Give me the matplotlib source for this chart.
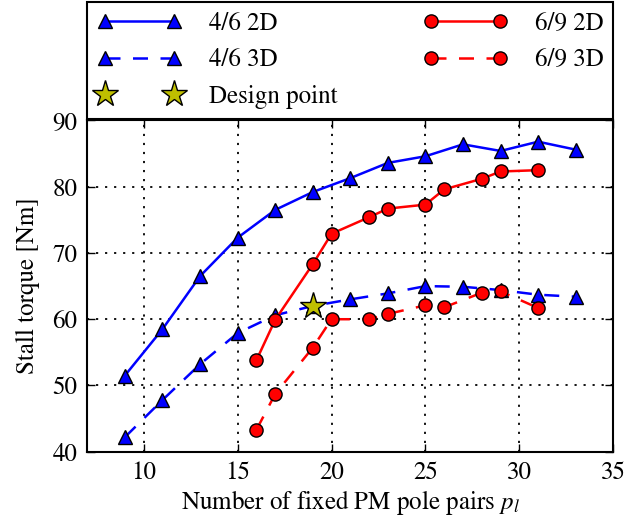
import matplotlib
matplotlib.use("Agg")
import matplotlib.pyplot as plt

plt.rcParams["font.family"] = ["STIXGeneral", "DejaVu Serif"]
plt.rcParams["mathtext.fontset"] = "stix"

# Stall torque [Nm] versus number of fixed PM pole pairs
p_46 = [9, 11, 13, 15, 17, 19, 21, 23, 25, 27, 29, 31, 33]
t_46_2d = [51.5, 58.5, 66.5, 72.3, 76.5, 79.2, 81.3, 83.6, 84.6, 86.4, 85.4, 86.8, 85.6]
t_46_3d = [42.2, 47.8, 53.2, 57.9, 60.6, 62.0, 63.0, 63.9, 65.0, 64.9, 64.4, 63.7, 63.4]

p_69 = [16, 17, 19, 20, 22, 23, 25, 26, 28, 29, 31]
t_69_2d = [53.8, 59.9, 68.3, 72.9, 75.4, 76.7, 77.3, 79.6, 81.2, 82.3, 82.5]
t_69_3d = [43.3, 48.7, 55.7, 60.0, 60.0, 60.8, 62.1, 61.8, 64.0, 64.2, 61.7]

design_p = [19]
design_t = [62.0]

FS = 18

fig = plt.figure(figsize=(6.44, 5.2), dpi=100)
ax = fig.add_axes([0.1356, 0.1313, 0.8167, 0.637])

lw = 1.8
tri = dict(marker="^", markersize=10, markerfacecolor="#0000ff",
           markeredgecolor="black", markeredgewidth=1.0)
circ = dict(marker="o", markersize=9.5, markerfacecolor="#ff0000",
            markeredgecolor="black", markeredgewidth=1.0)

h1, = ax.plot(p_46, t_46_2d, "-", color="#0000ff", lw=lw, label="4/6 2D", **tri)
h2, = ax.plot(p_46, t_46_3d, "--", color="#0000ff", lw=lw, dashes=(6, 5),
              label="4/6 3D", **tri)
h3, = ax.plot(design_p, design_t, linestyle="none", marker="*", markersize=20,
              markerfacecolor="#bfbf00", markeredgecolor="black",
              markeredgewidth=1.0, label="Design point", zorder=5)
h4, = ax.plot(p_69, t_69_2d, "-", color="#ff0000", lw=lw, label="6/9 2D", **circ)
h5, = ax.plot(p_69, t_69_3d, "--", color="#ff0000", lw=lw, dashes=(6, 5),
              label="6/9 3D", **circ)

ax.set_xlim(7, 35)
ax.set_ylim(40, 90)
ax.set_xticks([10, 15, 20, 25, 30, 35])
ax.set_yticks([40, 50, 60, 70, 80, 90])
ax.grid(True, color="black", linestyle=(0, (1.2, 3.8)), linewidth=1.3)
ax.tick_params(direction="in", top=True, right=True, length=6, width=1.0,
               labelsize=FS, pad=7)
for s in ax.spines.values():
    s.set_linewidth(1.5)

ax.set_xlabel("Number of fixed PM pole pairs $p_l$", fontsize=FS, labelpad=2)
ax.set_ylabel("Stall torque [Nm]", fontsize=FS, labelpad=9)

leg = ax.legend(handles=[h1, h2, h3, h4, h5], ncol=2, numpoints=2,
                loc="lower left", bbox_to_anchor=(0.0, 1.005, 1.0, 0.1),
                mode="expand", borderaxespad=0.0, fontsize=FS,
                handlelength=3.35, handletextpad=1.1, labelspacing=0.5,
                borderpad=0.4, fancybox=False,
                framealpha=1.0, edgecolor="black")
leg.get_frame().set_linewidth(1.5)

fig.savefig("out.png", dpi=100)
